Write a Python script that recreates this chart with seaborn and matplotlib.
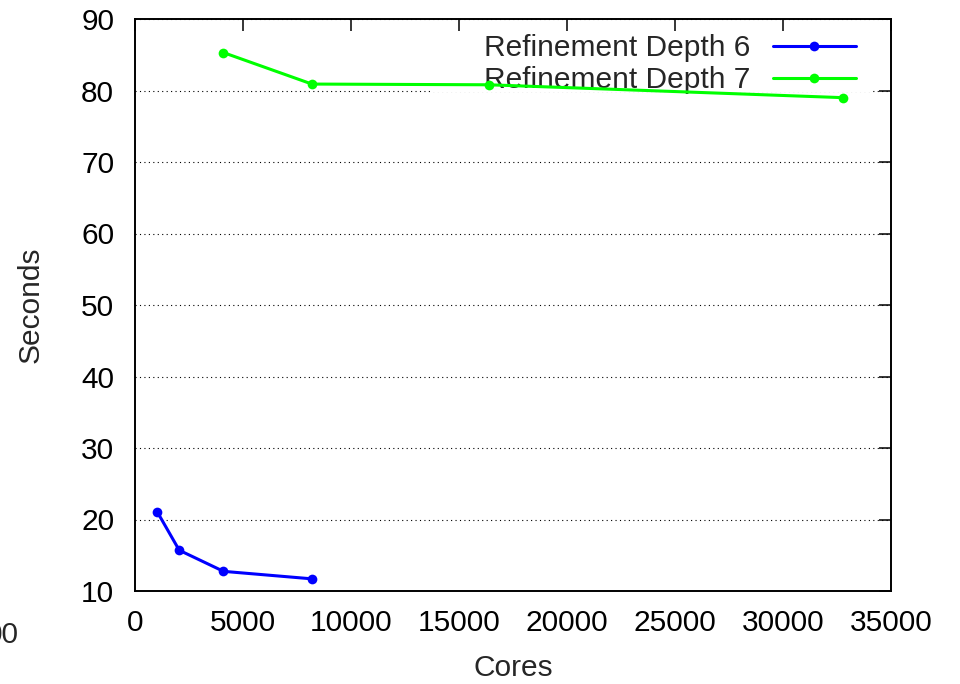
import pandas as pd
import numpy as np
import matplotlib.pyplot as plt
import seaborn as sns
from matplotlib.patches import Rectangle

# values
cores_d6 = [1024, 2048, 4096, 8192]
secs_d6 = [21.1, 15.7, 12.75, 11.7]
cores_d7 = [4096, 8192, 16384, 32768]
secs_d7 = [85.3, 80.9, 80.8, 79.0]
series = ['Refinement Depth 6', 'Refinement Depth 7']
colors = ['#0000ff', '#00ff00']

df = pd.concat([
    pd.DataFrame({'Cores': cores_d6, 'Seconds': secs_d6, 'series': series[0]}),
    pd.DataFrame({'Cores': cores_d7, 'Seconds': secs_d7, 'series': series[1]}),
])

FS = 21.5
sns.set_style('white')
plt.rcParams['font.family'] = ['Liberation Sans', 'DejaVu Sans']
plt.rcParams['font.size'] = FS

fig = plt.figure(figsize=(9.6, 6.84), dpi=100)
ax = fig.add_axes([135/960, 1 - 591/684, (891-135)/960, (591-19)/684])

sns.lineplot(data=df, x='Cores', y='Seconds', hue='series', palette=colors,
             marker='o', markersize=7, markeredgewidth=0, linewidth=2.2,
             ax=ax, zorder=3)

ax.set_xlim(0, 35000)
ax.set_ylim(10, 90)
ax.set_xticks(np.arange(0, 35001, 5000))
ax.set_yticks(np.arange(10, 91, 10))
ax.tick_params(direction='in', length=8.5, width=1.1, top=True, right=True,
               labelsize=FS, colors='black')
ax.tick_params(axis='y', pad=15)
ax.tick_params(axis='x', pad=13)
ax.set_axisbelow(True)
ax.yaxis.grid(True, color='black', linestyle=(0, (1, 3)), linewidth=0.8)
ax.xaxis.grid(False)
for s in ax.spines.values():
    s.set_linewidth(1.4)
    s.set_color('black')

ax.set_xlabel('Cores', fontsize=FS, labelpad=12)
ax.set_ylabel('Seconds', fontsize=FS, labelpad=26)

# white key box behind the legend (hides the grid, not the data lines)
ax.add_patch(Rectangle((0.39, 0.872), 0.586, 0.105, transform=ax.transAxes,
                       facecolor='white', edgecolor='none', zorder=1))

leg = ax.legend(loc='upper right', bbox_to_anchor=(0.954, 0.973),
                markerfirst=False, frameon=False, fontsize=FS,
                handlelength=2.8, borderaxespad=0, borderpad=0,
                labelspacing=0.12, handletextpad=0.75)
leg.set_zorder(2)

# clipped stray label at the left edge, as in the reference
fig.text(19/960, 1 - 635/684, '00', ha='right', va='center', fontsize=FS)

fig.savefig('out.png', dpi=100)
